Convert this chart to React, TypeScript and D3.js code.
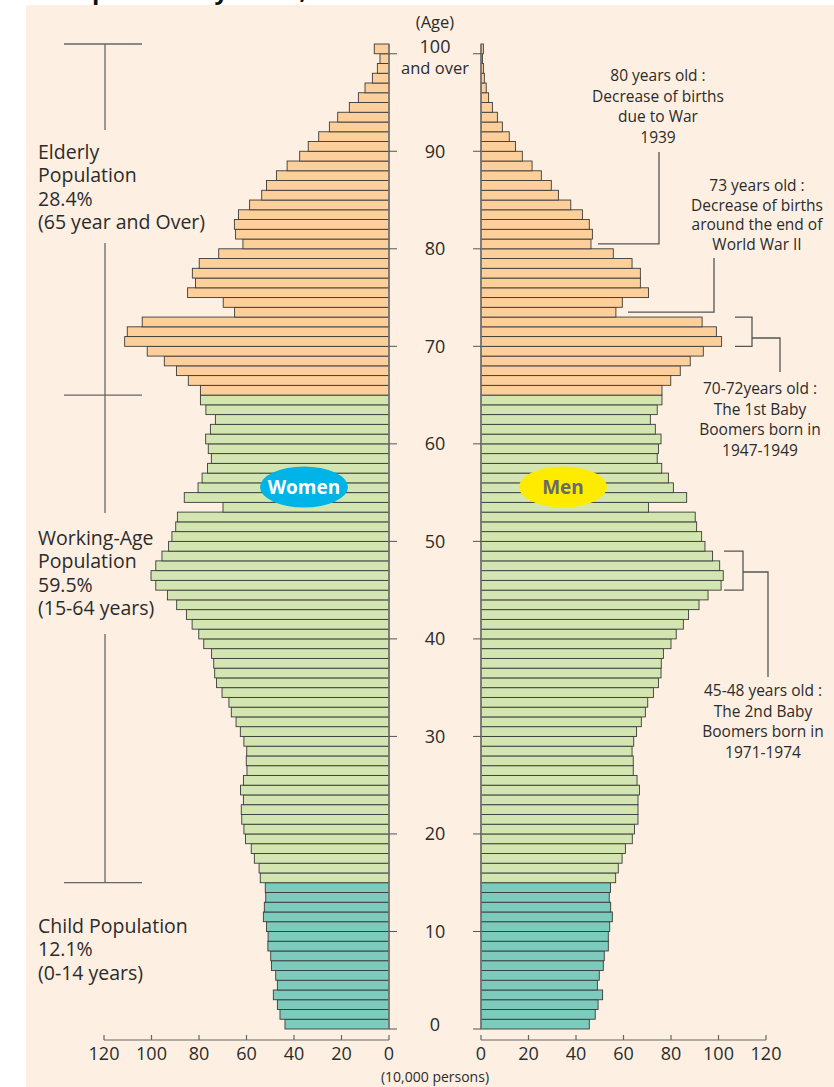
import React from "react";
import * as d3 from "d3";

// population by single year of age, 0 .. "100 and over" (10,000 persons)
const ages = d3.range(0, 101);
const women = [
  43.8, 45.9, 47.0, 48.7, 47.0, 47.7, 49.5, 49.8, 51.0, 50.9,
  51.6, 52.9, 52.5, 51.9, 52.1, 54.2, 54.7, 56.7, 58.0, 60.4,
  61.1, 62.0, 62.2, 61.3, 62.5, 61.3, 59.8, 60.1, 59.9, 61.1,
  62.6, 64.4, 66.4, 67.4, 70.3, 72.6, 73.4, 73.8, 74.7, 78.0,
  80.1, 82.9, 85.3, 89.4, 93.3, 98.2, 100.2, 98.2, 95.6, 92.8,
  91.4, 89.8, 89.1, 69.9, 86.2, 80.4, 78.7, 76.4, 74.8, 76.1,
  77.2, 75.2, 73.1, 77.1, 79.4, 79.4, 84.5, 89.5, 94.6, 101.8,
  111.3, 110.2, 103.9, 65.0, 69.8, 84.8, 81.5, 82.8, 79.9, 71.7,
  61.5, 64.6, 65.1, 63.4, 58.7, 53.6, 51.6, 47.4, 42.9, 37.6,
  34.0, 29.6, 25.1, 21.6, 16.7, 12.9, 10.1, 7.0, 4.9, 3.8,
  6.2,
];
const men = [
  45.6, 48.1, 49.3, 51.2, 49.0, 49.8, 51.5, 51.9, 53.6, 53.6,
  54.2, 55.3, 54.6, 54.0, 54.5, 56.7, 57.8, 59.4, 60.8, 63.7,
  64.6, 66.1, 66.1, 66.1, 66.7, 65.7, 64.1, 64.1, 63.6, 64.3,
  65.5, 67.5, 69.2, 70.2, 72.6, 74.7, 75.8, 75.9, 76.8, 80.0,
  82.2, 85.2, 87.4, 91.8, 95.6, 101.1, 102.0, 100.5, 97.5, 94.3,
  92.9, 90.8, 90.2, 70.5, 86.6, 81.0, 78.9, 76.1, 74.2, 74.7,
  75.8, 73.4, 71.3, 74.2, 76.2, 76.2, 79.9, 83.9, 88.1, 93.6,
  101.3, 99.1, 93.1, 56.8, 59.5, 70.5, 67.1, 67.1, 63.6, 55.7,
  46.3, 46.9, 45.6, 42.7, 37.8, 32.6, 29.6, 25.4, 21.5, 17.4,
  14.5, 11.9, 9.0, 6.9, 4.8, 3.2, 2.2, 1.4, 1.0, 0.6,
  1.0,
];
const ageTicks = [0, 10, 20, 30, 40, 50, 60, 70, 80, 90];
const xTicks = [0, 20, 40, 60, 80, 100, 120];

const FONT = "'Open Sans', sans-serif";
const TXT = "#2b2b2b";

const groupColor = (age: number) =>
  age >= 65 ? "#fdd09b" : age >= 15 ? "#d3e6b1" : "#7ccbbc";

export default function App() {
  const W = 834, H = 1087;
  const y = d3.scaleLinear().domain([0, 101]).range([1029, 44]);
  const xL = d3.scaleLinear().domain([0, 120]).range([389, 104]);
  const xR = d3.scaleLinear().domain([0, 120]).range([481, 766]);
  const axisY = 1040;
  const mid = (xL(0) + xR(0)) / 2;

  const lines = (x: number, y0: number, dy: number, arr: string[], size: number, anchor = "middle") =>
    arr.map((t, i) => (
      <text key={t + i} x={x} y={y0 + i * dy} fontSize={size} textAnchor={anchor} fill={TXT}>{t}</text>
    ));

  return (
    <svg width={W} height={H} style={{ position: "absolute", left: 0, top: 0 }} fontFamily={FONT}>
      <rect x={0} y={0} width={W} height={H} fill="#fff" />
      <text x={62} y={-1} fontSize={24} fontWeight="bold" fill="#111">Population Pyramid, 2019</text>
      <rect x={26} y={5} width={W - 26} height={H - 5} fill="#fdf0e2" />

      {/* bars */}
      {ages.map((a) => (
        <g key={a}>
          <rect x={xL(women[a])} y={y(a + 1)} width={xL(0) - xL(women[a])} height={y(a) - y(a + 1)}
            fill={groupColor(a)} stroke="#3a3a3a" strokeWidth={0.9} />
          <rect x={xR(0)} y={y(a + 1)} width={xR(men[a]) - xR(0)} height={y(a) - y(a + 1)}
            fill={groupColor(a)} stroke="#3a3a3a" strokeWidth={0.9} />
        </g>
      ))}
      <line x1={xL(0)} x2={xL(0)} y1={y(101)} y2={y(0)} stroke="#777" strokeWidth={1.6} />
      <line x1={xR(0)} x2={xR(0)} y1={y(101)} y2={y(0)} stroke="#777" strokeWidth={1.6} />

      {/* age axis */}
      {[...ageTicks, 100].map((a) => (
        <g key={a}>
          <line x1={xL(0)} x2={xL(0) + 8} y1={y(a)} y2={y(a)} stroke="#555" strokeWidth={1} />
          <line x1={xR(0) - 8} x2={xR(0)} y1={y(a)} y2={y(a)} stroke="#555" strokeWidth={1} />
        </g>
      ))}
      {ageTicks.map((a) => (
        <text key={a} x={mid} y={a === 0 ? y(a) - 4 : y(a)} dy="0.36em" fontSize={18} textAnchor="middle" fill={TXT}>{a}</text>
      ))}
      <text x={mid} y={28} fontSize={16.5} textAnchor="middle" fill={TXT}>(Age)</text>
      <text x={mid} y={53} fontSize={18} textAnchor="middle" fill={TXT}>100</text>
      <text x={mid} y={74} fontSize={16.5} textAnchor="middle" fill={TXT}>and over</text>

      {/* x axes */}
      <line x1={xL(120)} x2={xL(0)} y1={axisY} y2={axisY} stroke="#666" strokeWidth={1.2} />
      <line x1={xR(0)} x2={xR(120)} y1={axisY} y2={axisY} stroke="#666" strokeWidth={1.2} />
      {xTicks.map((t) => (
        <g key={t}>
          <line x1={xL(t)} x2={xL(t)} y1={axisY - 5} y2={axisY} stroke="#666" strokeWidth={1.2} />
          <line x1={xR(t)} x2={xR(t)} y1={axisY - 5} y2={axisY} stroke="#666" strokeWidth={1.2} />
          <text x={xL(t)} y={1060} fontSize={18} textAnchor="middle" fill={TXT}>{t}</text>
          <text x={xR(t)} y={1060} fontSize={18} textAnchor="middle" fill={TXT}>{t}</text>
        </g>
      ))}
      <text x={mid} y={1082} fontSize={14} textAnchor="middle" fill={TXT}>(10,000 persons)</text>

      {/* sex labels */}
      <ellipse cx={304} cy={487} rx={44} ry={20.5} fill="#00b4e8" />
      <text x={304} y={487} dy="0.36em" fontSize={19} fontWeight="bold" textAnchor="middle" fill="#fff">Women</text>
      <ellipse cx={563} cy={487} rx={44} ry={20.5} fill="#ffeb00" />
      <text x={563} y={487} dy="0.36em" fontSize={19} fontWeight="bold" textAnchor="middle" fill="#6a6a6a">Men</text>

      {/* left group brackets */}
      <g stroke="#666" strokeWidth={1.3}>
        <line x1={64} x2={142} y1={y(101)} y2={y(101)} />
        <line x1={64} x2={142} y1={y(65)} y2={y(65)} />
        <line x1={64} x2={142} y1={y(15)} y2={y(15)} />
        <line x1={105} x2={105} y1={y(101)} y2={130} />
        <line x1={105} x2={105} y1={243} y2={513} />
        <line x1={105} x2={105} y1={634} y2={y(15)} />
      </g>
      {lines(38, 159, 23.3, ["Elderly", "Population", "28.4%", "(65 year and Over)"], 19.5, "start")}
      {lines(38, 545, 23.3, ["Working-Age", "Population", "59.5%", "(15-64 years)"], 19.5, "start")}
      {lines(38, 933, 23.3, ["Child Population", "12.1%", "(0-14 years)"], 19.5, "start")}

      {/* right annotations */}
      <g stroke="#555" strokeWidth={1.3} fill="none">
        <polyline points={`659,152 659,${(y(80) + y(81)) / 2} 598,${(y(80) + y(81)) / 2}`} />
        <polyline points={`714,258 714,${(y(73) + y(74)) / 2} 628,${(y(73) + y(74)) / 2}`} />
        <polyline points={`735,${y(73)} 752,${y(73)} 752,${y(70)} 735,${y(70)}`} />
        <polyline points={`752,338 780,338 780,372`} />
        <polyline points={`724,${y(49)} 743,${y(49)} 743,${y(45)} 724,${y(45)}`} />
        <polyline points={`743,572 768,572 768,677`} />
      </g>
      {lines(658, 81, 20.5, ["80 years old :", "Decrease of births", "due to War", "1939"], 15.5)}
      {lines(757, 191, 19.5, ["73 years old :", "Decrease of births", "around the end of", "World War II"], 15.5)}
      {lines(760, 394, 20.5, ["70-72years old :", "The 1st Baby", "Boomers born in", "1947-1949"], 15.5)}
      {lines(763, 696, 20.5, ["45-48 years old :", "The 2nd Baby", "Boomers born in", "1971-1974"], 15.5)}
    </svg>
  );
}
